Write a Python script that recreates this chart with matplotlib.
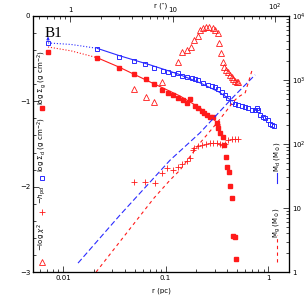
import numpy as np
import matplotlib
matplotlib.use('Agg')
import matplotlib.pyplot as plt
from matplotlib.ticker import MultipleLocator, NullFormatter

# --- datos leidos de la figura
# polvo: log Sigma_d (cuadrados azules)
r_d = [0.00714, 0.0215, 0.0352, 0.0493, 0.0631, 0.0772, 0.0946, 0.1057, 0.118, 0.132,
       0.145, 0.162, 0.181, 0.194, 0.208, 0.232, 0.260, 0.284, 0.304, 0.325,
       0.356, 0.380, 0.407, 0.445, 0.476, 0.509, 0.557, 0.597, 0.638, 0.698,
       0.746, 0.781, 0.798, 0.835, 0.893, 0.935, 1.0, 1.047, 1.094, 1.145]
sig_d = [-0.317, -0.387, -0.481, -0.528, -0.563, -0.61, -0.645, -0.656, -0.68, -0.668,
         -0.703, -0.715, -0.727, -0.739, -0.75, -0.785, -0.809, -0.821, -0.832, -0.856,
         -0.891, -0.926, -0.961, -1.008, -1.032, -1.043, -1.055, -1.067, -1.079, -1.102,
         -1.102, -1.079, -1.102, -1.161, -1.184, -1.196, -1.219, -1.266, -1.278, -1.29]

# gas: log Sigma_g (cuadrados rojos llenos)
r_g = [0.00714, 0.0215, 0.0352, 0.0493, 0.0645, 0.0772, 0.0924, 0.1057, 0.118, 0.132,
       0.148, 0.173, 0.162, 0.194, 0.208, 0.227, 0.238, 0.254, 0.272, 0.29,
       0.318, 0.325, 0.34, 0.364, 0.372, 0.39, 0.398, 0.417, 0.427, 0.445,
       0.456, 0.476, 0.487]
sig_g = [-0.422, -0.492, -0.61, -0.68, -0.739, -0.797, -0.868, -0.903, -0.926, -0.961,
         -0.985, -0.973, -1.02, -1.055, -1.079, -1.114, -1.137, -1.161, -1.184, -1.184,
         -1.254, -1.313, -1.372, -1.419, -1.512, -1.653, -1.77, -1.829, -1.993, -2.134,
         -2.579, -2.591, -2.849]

# -log chi^2 (triangulos)
r_chi = [0.0493, 0.0645, 0.0772, 0.0924, 0.132, 0.145, 0.162, 0.177, 0.19, 0.208,
         0.217, 0.232, 0.249, 0.265, 0.29, 0.304, 0.325, 0.333, 0.348, 0.364,
         0.372, 0.39, 0.407, 0.427, 0.445, 0.456, 0.476, 0.498, 0.509]
chi = [-0.856, -0.95, -1.008, -0.774, -0.539, -0.422, -0.399, -0.363, -0.281, -0.234,
       -0.164, -0.141, -0.129, -0.129, -0.141, -0.164, -0.199, -0.317, -0.434, -0.539,
       -0.598, -0.633, -0.656, -0.692, -0.715, -0.739, -0.762, -0.774, -0.774]

# -h_pd (cruces)
r_h = [0.0493, 0.0631, 0.079, 0.0924, 0.1036, 0.118, 0.132, 0.145, 0.162, 0.173,
       0.185, 0.19, 0.208, 0.227, 0.249, 0.272, 0.29, 0.318, 0.34, 0.356,
       0.38, 0.407, 0.445, 0.476, 0.509]
h_pd = [-1.946, -1.946, -1.958, -1.841, -1.782, -1.805, -1.770, -1.735, -1.70, -1.665,
        -1.571, -1.547, -1.524, -1.512, -1.5, -1.489, -1.489, -1.489, -1.5, -1.512,
        -1.5, -1.454, -1.442, -1.442, -1.442]

# modelos (lineas)
rm_d_dot = [0.00714, 0.012, 0.0215]
m_d_dot = [-0.317, -0.335, -0.38]
rm_d = [0.0215, 0.0352, 0.0706, 0.132, 0.217, 0.33, 0.445]
m_d = [-0.38, -0.465, -0.574, -0.68, -0.785, -0.89, -0.996]
rm_g_dot = [0.00714, 0.012, 0.0215]
m_g_dot = [-0.364, -0.41, -0.49]
rm_g = [0.0215, 0.0352, 0.0706, 0.138, 0.217, 0.34]
m_g = [-0.49, -0.6, -0.774, -0.938, -1.079, -1.278]

# limite superior en el centro
lim_r = 0.00714
lim_lo, lim_hi = -0.317, -0.21

# masas acumuladas (eje derecho)
r_Md = [0.014, 0.036, 0.1107, 0.217, 0.456, 0.746]
Md = [1.38, 7.8, 56, 150, 540, 1200]
r_Mg = [0.021, 0.077, 0.1107, 0.138, 0.217, 0.318, 0.398, 0.456, 0.509, 0.597, 0.698]
Mg = [1.0, 14.3, 27.4, 39, 104, 215, 340, 455, 540, 630, 1440]

pc_per_arcsec = 0.0117
xmin, xmax = 0.00509, 1.6

red = '#ff1a1a'
blue = '#2b2bff'
fs = 5

fig = plt.figure(figsize=(3.05, 3.05), dpi=100)
ax = fig.add_axes([0.108, 0.108, 0.84, 0.84])
ax.set_xscale('log')
ax.set_xlim(xmin, xmax)
ax.set_ylim(-3, 0)

ax.plot(rm_d_dot, m_d_dot, ':', color=blue, lw=0.8)
ax.plot(rm_d, m_d, '-', color=blue, lw=0.8)
ax.plot(rm_g_dot, m_g_dot, ':', color=red, lw=0.8)
ax.plot(rm_g, m_g, '-', color=red, lw=0.8)
ax.annotate('', xy=(lim_r, lim_hi), xytext=(lim_r, lim_lo),
            arrowprops=dict(arrowstyle='-|>', color=blue, lw=0.7, mutation_scale=4))

ax.plot(r_d, sig_d, 's', mfc='none', mec=blue, ms=3.4, mew=0.7, ls='none')
ax.plot(r_g, sig_g, 's', color=red, ms=3.1, ls='none')
ax.plot(r_chi, chi, '^', mfc='none', mec=red, ms=3.8, mew=0.6, ls='none')
ax.plot(r_h, h_pd, '+', color=red, ms=5, mew=0.6, ls='none')

# eje derecho: masas
ax2 = ax.twinx()
ax2.set_yscale('log')
ax2.set_ylim(1, 1e4)
ax2.plot(r_Md, Md, color=blue, lw=0.8, ls=(0, (5, 2.5)))
ax2.plot(r_Mg, Mg, color=red, lw=0.8, ls=(0, (3, 3)))
ax2.set_xlim(xmin, xmax)

# eje superior: arcsec
ax3 = ax.twiny()
ax3.set_xscale('log')
ax3.set_xlim(xmin / pc_per_arcsec, xmax / pc_per_arcsec)

# ticks
ax.set_xticks([0.01, 0.1, 1])
ax.set_xticklabels(['0.01', '0.1', '1'])
ax.xaxis.set_minor_formatter(NullFormatter())
ax.set_yticks([-3, -2, -1, 0])
ax.set_yticklabels(['\u22123', '\u22122', '\u22121', '0'])
ax.yaxis.set_minor_locator(MultipleLocator(0.2))
ax3.set_xticks([1, 10, 100])
ax3.set_xticklabels(['1', '10', '10$^2$'])
ax3.xaxis.set_minor_formatter(NullFormatter())
ax2.set_yticks([1, 10, 100, 1000, 10000])
ax2.set_yticklabels(['1', '10', '10$^2$', '10$^3$', '10$^4$'])
ax2.yaxis.set_minor_formatter(NullFormatter())

for a in (ax, ax2, ax3):
    a.tick_params(which='both', direction='in', labelsize=fs, width=0.5, pad=2)
    a.tick_params(which='major', length=4)
    a.tick_params(which='minor', length=2)
    for s in a.spines.values():
        s.set_linewidth(0.8)
ax.tick_params(top=False, right=False)
ax2.tick_params(left=False, bottom=False, top=False)
ax3.tick_params(left=False, right=False, bottom=False)

ax.set_xlabel('r (pc)', fontsize=fs, labelpad=5)
fig.text(0.525, 0.982, 'r (\u2033)', fontsize=fs, ha='center', va='center')

ax.text(0.045, 0.93, 'B1', transform=ax.transAxes, fontsize=11,
        family='Liberation Serif', ha='left', va='center')

# leyenda vertical (izquierda)
ax.plot([0.035], [0.64], 's', color=red, ms=3.1, transform=ax.transAxes)
ax.text(0.035, 0.758, r'log $\Sigma_{\rm g}$ (g cm$^{-2}$)', transform=ax.transAxes,
        rotation=90, fontsize=fs, ha='center', va='center')
ax.plot([0.035], [0.367], 's', mfc='none', mec=blue, ms=3.4, mew=0.7, transform=ax.transAxes)
ax.text(0.035, 0.496, r'log $\Sigma_{\rm d}$ (g cm$^{-2}$)', transform=ax.transAxes,
        rotation=90, fontsize=fs, ha='center', va='center')
ax.plot([0.035], [0.234], '+', color=red, ms=5, mew=0.6, transform=ax.transAxes)
ax.text(0.035, 0.30, r'$-h_{\rm pd}$', transform=ax.transAxes,
        rotation=90, fontsize=fs, ha='center', va='center')
ax.plot([0.035], [0.039], '^', mfc='none', mec=red, ms=3.8, mew=0.6, transform=ax.transAxes)
ax.text(0.035, 0.137, r'$-$log $\chi^2$', transform=ax.transAxes,
        rotation=90, fontsize=fs, ha='center', va='center')

# leyenda vertical (derecha)
ax.plot([0.953, 0.953], [0.348, 0.387], color=blue, lw=0.8, transform=ax.transAxes)
ax.text(0.953, 0.449, r'M$_{\rm d}$ (M$_\odot$)', transform=ax.transAxes,
        rotation=90, fontsize=fs, ha='center', va='center')
ax.plot([0.953, 0.953], [0.039, 0.145], color=red, lw=0.8, ls=(0, (3, 3)), transform=ax.transAxes)
ax.text(0.953, 0.195, r'M$_{\rm g}$ (M$_\odot$)', transform=ax.transAxes,
        rotation=90, fontsize=fs, ha='center', va='center')

plt.savefig('out.png', dpi=100)
